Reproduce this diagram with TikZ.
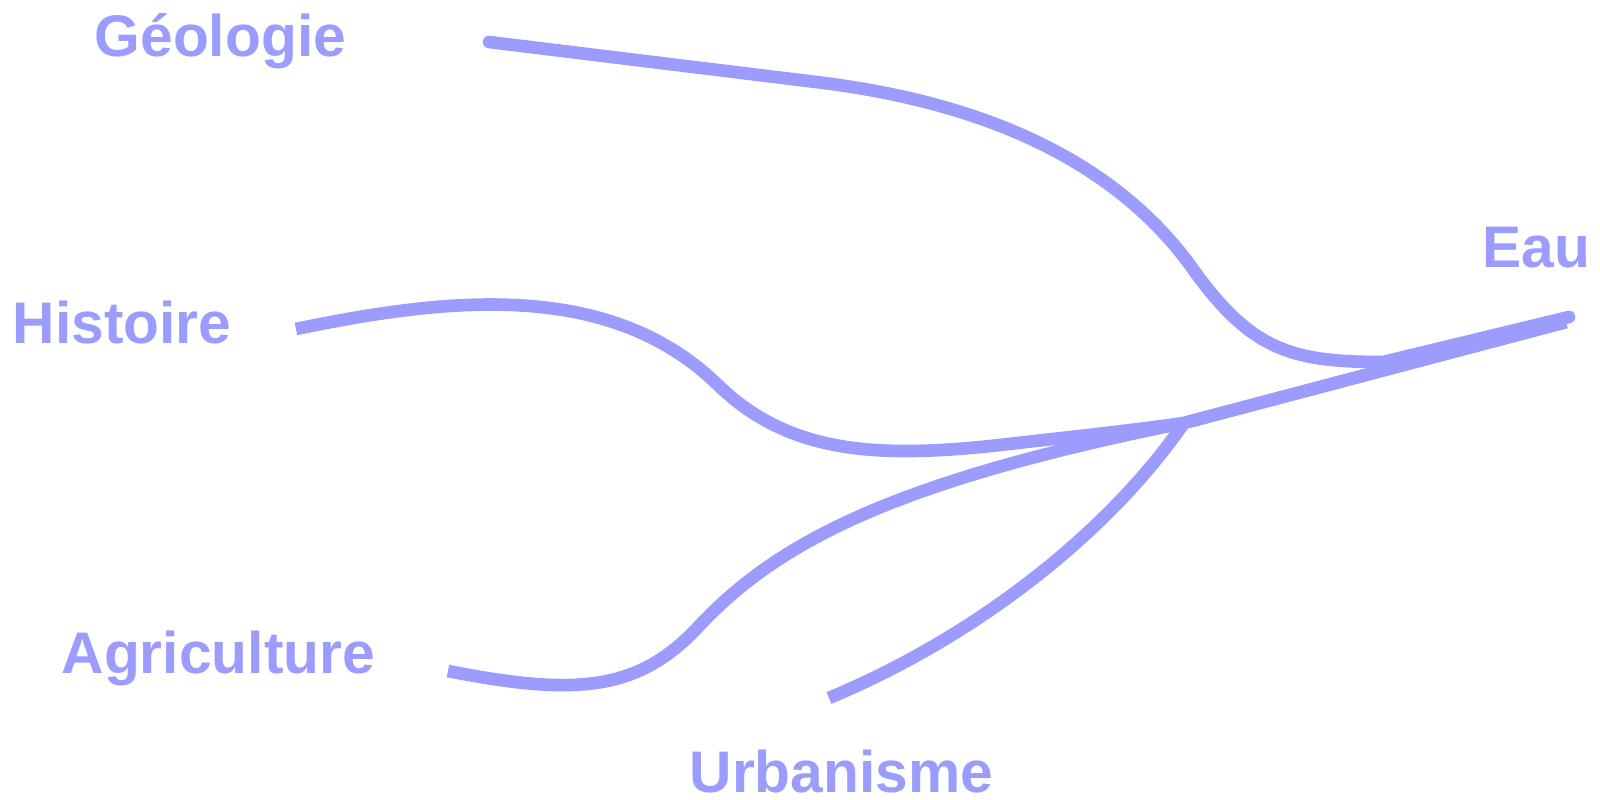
\documentclass[tikz,border=0pt]{standalone}
\usepackage{fontspec}
\setmainfont{Liberation Sans}
\definecolor{lav}{RGB}{156,156,255}
\begin{document}
\begin{tikzpicture}[x=0.01cm,y=-0.01cm,
  lbl/.style={inner sep=0pt,anchor=base west,text=lav,font=\fontsize{16.7pt}{18pt}\selectfont\bfseries},
  flow/.style={draw=lav,line width=3.6pt}]
\useasboundingbox (0,0) rectangle (1600,800);
\node[lbl] (geo) at (94,56) {Géologie};
\node[lbl] (his) at (12,343) {Histoire};
\node[lbl] (agr) at (61,673) {Agriculture};
\node[lbl] (urb) at (689,792) {Urbanisme};
\node[lbl] (eau) at (1482,267) {Eau};
\coordinate (g0) at (489,42);
\coordinate (h0) at (296,329);
\coordinate (a0) at (448,671);
\coordinate (u0) at (829,698);
\coordinate (e0) at (1566,322);
\coordinate (e1) at (1569,317);
\coordinate (m) at (1184,423);
\draw[flow] (a0) .. controls (580,697) and (640,690) .. (700,625)
  .. controls (780,540) and (900,480) .. (m) -- (e0);
\draw[flow] (h0) .. controls (450,297) and (610,280) .. (718,385)
  .. controls (790,455) and (880,458) .. (1000,445)
  .. controls (1060,438) and (1120,432) .. (m) -- (e0);
\draw[flow] (u0) .. controls (980,635) and (1110,530) .. (m);
\draw[flow,line cap=round] (g0) -- (816,82) .. controls (1000,104) and (1120,170) .. (1190,265)
  .. controls (1250,350) and (1290,362) .. (1383,362) -- (e1);
\end{tikzpicture}
\end{document}
